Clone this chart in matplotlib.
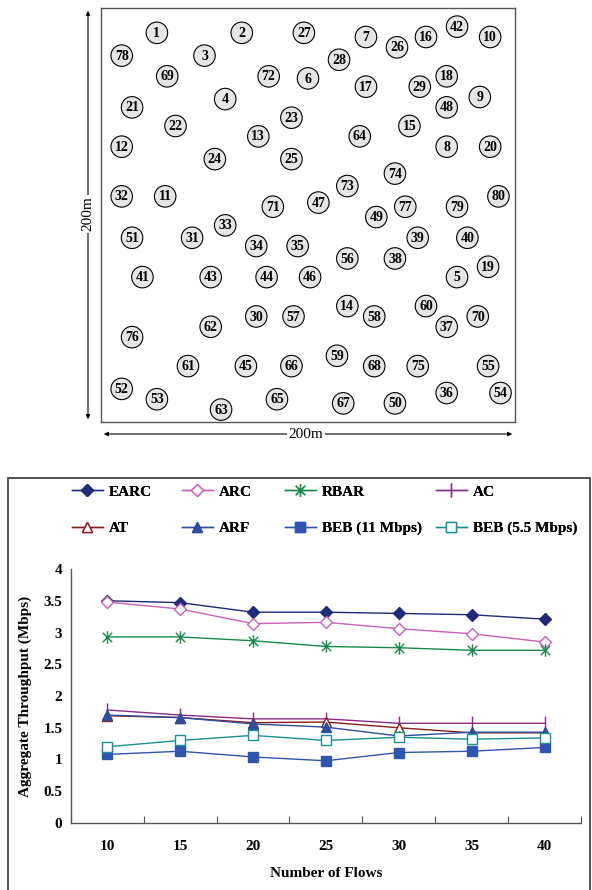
import matplotlib

matplotlib.use("Agg")

import matplotlib.pyplot as plt
from matplotlib.patches import Circle, Rectangle
from matplotlib.path import Path

plt.rcParams["font.family"] = ["Liberation Serif", "DejaVu Serif"]

# node layout in a 200 m x 200 m field, node i+1 at (node_x[i], node_y[i])
node_x = [27, 68, 50, 60, 172, 100, 128, 167, 183, 188,
          31, 10, 76, 119, 149, 157, 128, 167, 187, 188,
          15, 36, 92, 55, 92, 143, 98, 115, 154, 75,
          44, 10, 60, 75, 95, 167, 167, 142, 153, 177,
          20, 172, 53, 80, 70, 101, 105, 167, 133, 142,
          15, 10, 27, 193, 187, 119, 93, 132, 114, 157,
          42, 53, 58, 125, 85, 92, 117, 132, 32, 182,
          83, 81, 119, 142, 153, 15, 147, 10, 172, 192]
node_y = [188, 188, 177, 156, 70, 166, 186, 133, 157, 186,
          109, 133, 138, 56, 143, 186, 162, 167, 75, 133,
          152, 143, 147, 127, 127, 181, 188, 175, 162, 51,
          89, 109, 95, 85, 85, 14, 46, 79, 89, 89,
          70, 191, 70, 70, 27, 70, 106, 152, 99, 9,
          89, 16, 11, 14, 27, 79, 51, 51, 32, 56,
          27, 46, 6, 138, 11, 27, 9, 27, 167, 51,
          104, 167, 114, 120, 27, 41, 104, 177, 104, 109]

# throughput results
flows = ["10", "15", "20", "25", "30", "35", "40"]
earc = [3.50, 3.47, 3.32, 3.32, 3.30, 3.28, 3.21]
arc = [3.48, 3.37, 3.14, 3.16, 3.06, 2.98, 2.85]
rbar = [2.93, 2.93, 2.87, 2.78, 2.76, 2.72, 2.72]
ac = [1.78, 1.70, 1.64, 1.64, 1.57, 1.57, 1.57]
at = [1.69, 1.66, 1.58, 1.59, 1.50, 1.42, 1.42]
arf = [1.70, 1.66, 1.56, 1.51, 1.37, 1.43, 1.43]
beb11 = [1.08, 1.13, 1.04, 0.98, 1.11, 1.13, 1.19]
beb55 = [1.20, 1.30, 1.38, 1.30, 1.35, 1.32, 1.34]

W, H = 592, 890


def fx(px):
    return px / W


def fy(py):
    return 1 - py / H


fig = plt.figure(figsize=(W / 100, H / 100), dpi=100)

# ---- topology ----
ax_top = fig.add_axes([fx(101), fy(422), fx(414), 414 / H])
ax_top.set_xlim(0, 200)
ax_top.set_ylim(0, 200)
ax_top.set_xticks([])
ax_top.set_yticks([])
for s in ax_top.spines.values():
    s.set_color("#555555")
    s.set_linewidth(1.0)

for i, (x, y) in enumerate(zip(node_x, node_y)):
    ax_top.add_patch(Circle((x, y), 5.2, facecolor="#e6e6e6", edgecolor="black", lw=0.8))
    ax_top.text(x, y - 0.3, str(i + 1), ha="center", va="center",
                fontsize=10, fontweight="bold")

arrow = dict(arrowstyle="<|-|>", lw=0.8, color="black", mutation_scale=6)
fig.add_artist(plt.Annotation("", xy=(fx(88), fy(8)), xytext=(fx(88), fy(422)),
                              xycoords="figure fraction", arrowprops=arrow))
fig.add_artist(plt.Annotation("", xy=(fx(101), fy(434)), xytext=(fx(515), fy(434)),
                              xycoords="figure fraction", arrowprops=arrow))
fig.text(fx(88), fy(214), "200m", rotation=90, ha="center", va="center", fontsize=11,
         bbox=dict(facecolor="white", edgecolor="none", pad=1))
fig.text(fx(306), fy(434), "200m", ha="center", va="center", fontsize=11,
         bbox=dict(facecolor="white", edgecolor="none", pad=1))

# ---- throughput chart ----
fig.add_artist(Rectangle((fx(8), fy(895)), fx(582), (895 - 478) / H,
                         transform=fig.transFigure, fill=False,
                         edgecolor="#444444", lw=1.3, clip_on=False))

ax = fig.add_axes([fx(70.7), fy(823), fx(510.3), 254 / H])
pos = list(range(len(flows)))

asterisk = Path([(0, -1), (0, 1), (-0.75, -0.75), (0.75, 0.75), (-0.75, 0.75), (0.75, -0.75)],
                [Path.MOVETO, Path.LINETO, Path.MOVETO, Path.LINETO, Path.MOVETO, Path.LINETO])

series = [
    ("EARC", earc, dict(color="#1f2a78", marker="D", ms=6, mfc="#1f2a78")),
    ("ARC", arc, dict(color="#cc5fb8", marker="D", ms=6, mfc="white")),
    ("RBAR", rbar, dict(color="#17894a", marker=asterisk, ms=9, mew=1.0)),
    ("AC", ac, dict(color="#8a2a8a", marker="|", ms=10, mew=1.0)),
    ("AT", at, dict(color="#8b1a1a", marker="^", ms=7, mfc="white")),
    ("ARF", arf, dict(color="#2f4ea0", marker="^", ms=7, mfc="#2f4ea0")),
    ("BEB (11 Mbps)", beb11, dict(color="#2f55b0", marker="s", ms=7, mfc="#2f55b0")),
    ("BEB (5.5 Mbps)", beb55, dict(color="#1a9090", marker="s", ms=7, mfc="white")),
]
handles = []
for name, vals, style in series:
    (ln,) = ax.plot(pos, vals, lw=1.0, label=name, **style)
    handles.append(ln)

ax.set_xlim(-0.5, len(flows) - 0.5)
ax.set_ylim(0, 4)
ax.set_yticks([0, 0.5, 1, 1.5, 2, 2.5, 3, 3.5, 4])
ax.set_yticklabels(["0", "0.5", "1", "1.5", "2", "2.5", "3", "3.5", "4"])
ax.set_xticks([p - 0.5 for p in pos] + [len(flows) - 0.5])
ax.set_xticklabels([])
ax.set_xticks(pos, minor=True)
ax.set_xticklabels(flows, minor=True)
ax.tick_params(axis="x", which="major", direction="in", length=5, color="#555555")
ax.tick_params(axis="x", which="minor", length=0, pad=12, labelsize=11)
ax.tick_params(axis="y", length=0, pad=6, labelsize=11)
for lab in ax.get_xticklabels(minor=True) + ax.get_yticklabels():
    lab.set_fontweight("bold")
for side in ("top", "right"):
    ax.spines[side].set_visible(False)
for side in ("left", "bottom"):
    ax.spines[side].set_color("#555555")
    ax.spines[side].set_linewidth(1.0)

ax.set_xlabel("Number of Flows", fontsize=11, fontweight="bold", labelpad=10)
fig.text(fx(25), fy(696), "Aggregate Throughput (Mbps)", rotation=90, ha="center",
         va="center", fontsize=11, fontweight="bold")

# legend: four columns placed like the original
col_x = [72, 182, 285, 436]
for c, x0 in enumerate(col_x):
    leg = fig.legend(handles=[handles[c], handles[c + 4]], loc="upper left",
                     bbox_to_anchor=(fx(x0), fy(485)), frameon=False,
                     prop=dict(weight="bold", size=11), handlelength=2.0,
                     handletextpad=0.4, labelspacing=1.5, borderpad=0, borderaxespad=0)
    fig.add_artist(leg)

fig.savefig("out.png", dpi=100)
